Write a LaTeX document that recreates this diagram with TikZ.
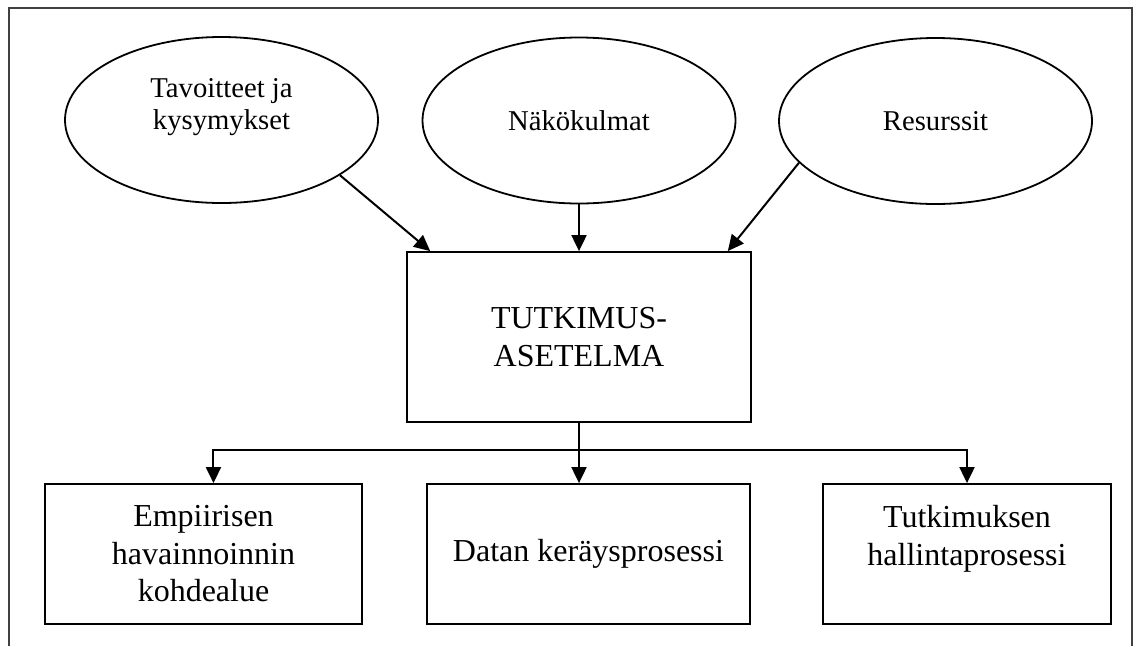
\documentclass[tikz,border=0pt]{standalone}
\usepackage{fontspec}
\setmainfont{Liberation Serif}
\usepackage{tikz}
\usetikzlibrary{shapes.geometric}
\usetikzlibrary{arrows.meta}
\tikzset{
    ovalnode/.style = {ellipse, draw=black, line width=1.8pt, align=center, inner sep=0pt, minimum width=313pt, minimum height=166pt, font=\fontsize{28.7}{32}\selectfont},
    boxnode/.style = {rectangle, draw=black, line width=1.8pt, align=center, inner sep=0pt, font=\fontsize{32}{37.5}\selectfont},
}

\begin{document}
\begin{tikzpicture}[
	x=1pt,
	y=-1pt
]
\tikzset{
    edgea/.style = {-{Triangle[length=16pt,width=15pt]}, line width=2pt},
    frame/.style = {line width=1.5pt, black!75}
}
\useasboundingbox (0,0) rectangle (1137,646);
\draw[frame] (9,646) -- (9,8) -- (1132,8) -- (1132,646);
%
\node[ovalnode] at (221.5,120) (tav) {Tavoitteet ja\\kysymykset\\\mbox{}};
\node[ovalnode] at (579,120.5) (nak) {Näkökulmat};
\node[ovalnode] at (935.5,121) (res) {Resurssit};
%
\node[boxnode, minimum width=344pt, minimum height=170pt, font=\fontsize{32}{38}\selectfont] at (579,337) (tut) {TUTKIMUS-\\ASETELMA};
%
\node[boxnode, minimum width=317pt, minimum height=140pt] at (203.5,554) (emp) {Empiirisen\\havainnoinnin\\kohdealue};
\node[boxnode, minimum width=323pt, minimum height=140pt] at (588.5,554) (dat) {Datan keräysprosessi};
\node[boxnode, minimum width=288pt, minimum height=140pt] at (967,554) (ham) {Tutkimuksen\\hallintaprosessi\\\mbox{}};
\coordinate (jako) at (579,450);
%
\draw[edgea] (tav.-25) -- (tut.150.8);
\draw[edgea] (nak.south) -- (nak.south |- tut.north);
\draw[edgea] (res.197) -- (tut.30.6);
%
\draw[edgea] (tut.south) -- (tut.south |- dat.north);
\draw[edgea] (jako) -| (emp.82.3);
\draw[edgea] (jako) -| (ham.north);
\end{tikzpicture}
\end{document}
